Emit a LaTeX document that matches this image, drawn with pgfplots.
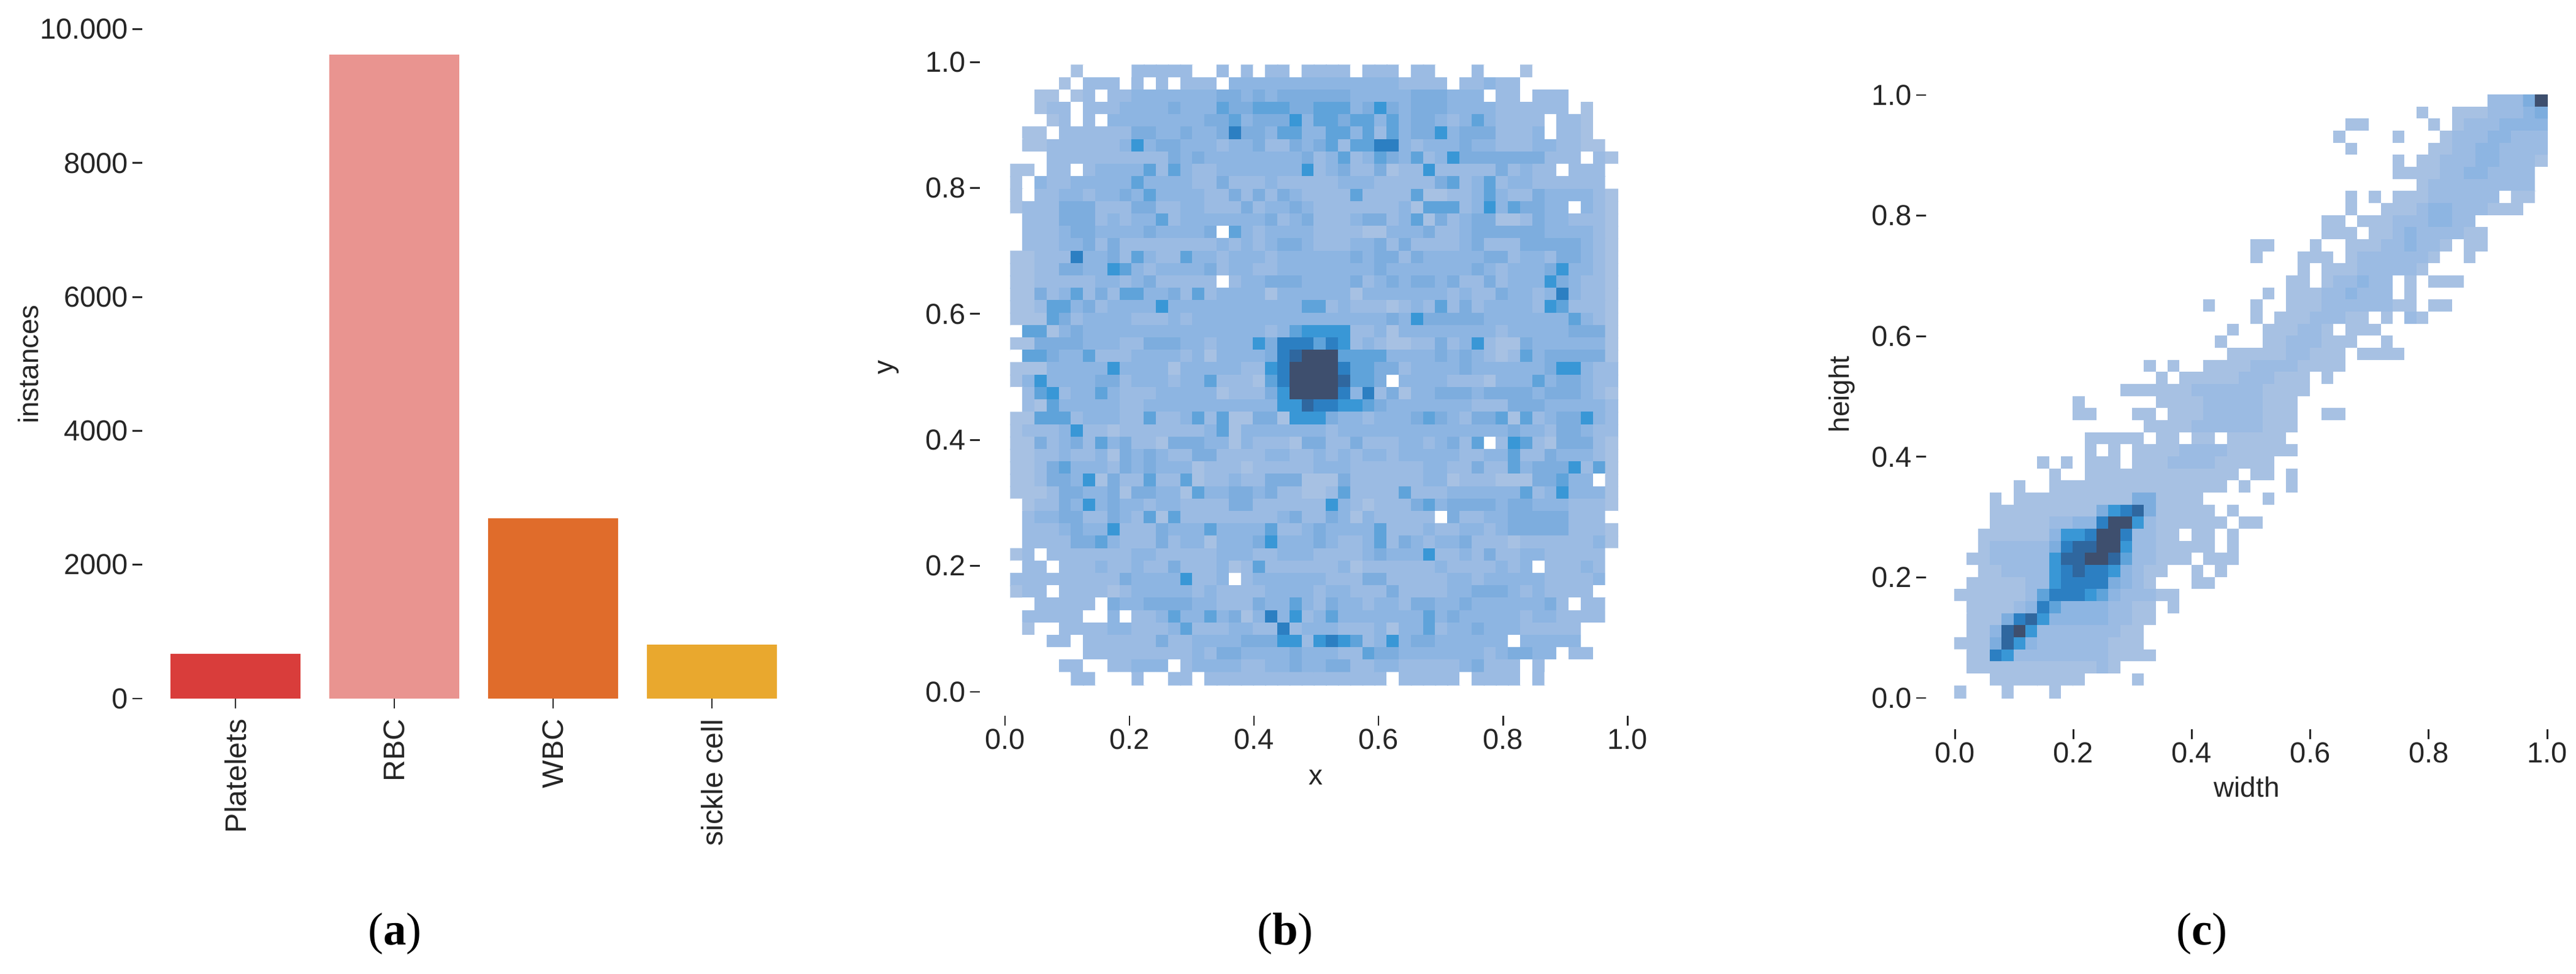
\documentclass[border=0pt]{standalone}
\usepackage{fontspec}
\setmainfont{Liberation Sans}
\newfontfamily\capfont{Liberation Serif}
\usepackage{pgfplots}
\pgfplotsset{compat=1.18}
\definecolor{txt}{HTML}{262626}
\pgfplotsset{
 colormap={hb}{rgb255=(255,255,255) rgb255=(167,193,227) rgb255=(155,187,227) rgb255=(141,181,226) rgb255=(125,173,222) rgb255=(95,163,218) rgb255=(57,151,214) rgb255=(44,127,194) rgb255=(47,103,159) rgb255=(62,79,110)},
 base/.style={scale only axis, anchor=south west, axis lines=left, axis line style={draw=none,-},
  tick align=outside, xtick pos=bottom, ytick pos=left, major tick length=3.9pt,
  scaled y ticks=false, scaled x ticks=false,
  tick style={draw=txt,line width=0.7pt},
  tick label style={font=\fontsize{11.3}{13}\selectfont,text=txt},
  label style={font=\fontsize{11}{13}\selectfont,text=txt},
  xtick style={draw=txt}, ytick style={draw=txt},
  xticklabel style={inner sep=1pt}, yticklabel style={inner sep=1.4pt}},
}
\begin{document}
\begin{tikzpicture}
\path[use as bounding box] (0,0) rectangle (1008.24pt,380.88pt);
\begin{axis}[base, at={(55.68pt,107.52pt)}, width=253.92pt, height=261.94pt,
 xmin=-0.587, xmax=3.498, ymin=0, ymax=10000, ybar, bar width=50.88pt,
 xtick={0,1,2,3}, xticklabels={Platelets,RBC,WBC,sickle cell},
 xticklabel style={rotate=90,anchor=east,inner sep=4pt,font=\fontsize{11.6}{13}\selectfont},
 ytick={0,2000,4000,6000,8000,10000}, yticklabels={0,2000,4000,6000,8000,10.000},
 ylabel={instances}, ylabel style={at={(axis description cs:-0.1758,0.4994)},anchor=center}]
\addplot[bar shift=0pt,draw=none,fill={rgb,255:red,217;green,61;blue,59}] coordinates {(0,668)};
\addplot[bar shift=0pt,draw=none,fill={rgb,255:red,233;green,148;blue,144}] coordinates {(1,9620)};
\addplot[bar shift=0pt,draw=none,fill={rgb,255:red,224;green,108;blue,43}] coordinates {(2,2690)};
\addplot[bar shift=0pt,draw=none,fill={rgb,255:red,233;green,168;blue,46}] coordinates {(3,807)};
\end{axis}
\begin{axis}[base, at={(383.52pt,100.8pt)}, width=258.24pt, height=257.04pt,
 xmin=-0.0404, xmax=1.0197, ymin=-0.03797, ymax=1.005, colormap name=hb, point meta min=0, point meta max=9,
 xtick={0,0.2,0.4,0.6,0.8,1}, xticklabels={0.0,0.2,0.4,0.6,0.8,1.0},
 ytick={0,0.2,0.4,0.6,0.8,1}, yticklabels={0.0,0.2,0.4,0.6,0.8,1.0},
 xlabel={x}, xlabel style={at={(axis description cs:0.5088,-0.0934)},anchor=center},
 ylabel={y}, ylabel style={at={(axis description cs:-0.1385,0.5303)},anchor=center}]
\addplot[matrix plot*, mesh/cols=50, mesh/rows=50, point meta=explicit] table[row sep=crcr, header=false, x expr={0.009+(mod(\coordindex,50)+0.5)*0.01951}, y expr={0.995-(floor((\coordindex+0.5)/50)+0.5)*0.01968}, meta index=0]{
0\\0\\0\\0\\0\\1\\0\\0\\0\\0\\2\\2\\2\\2\\2\\0\\0\\2\\0\\2\\0\\2\\2\\0\\2\\2\\2\\2\\0\\2\\2\\2\\0\\2\\2\\0\\0\\0\\2\\0\\0\\0\\1\\0\\0\\0\\0\\0\\0\\0\\
0\\0\\0\\0\\1\\0\\2\\2\\2\\0\\2\\0\\2\\0\\2\\2\\2\\0\\3\\3\\3\\3\\3\\3\\3\\3\\3\\3\\3\\3\\3\\3\\2\\2\\2\\2\\0\\2\\2\\3\\2\\2\\0\\0\\0\\0\\0\\0\\0\\0\\
0\\0\\1\\1\\0\\1\\2\\0\\2\\2\\3\\3\\3\\3\\3\\3\\3\\4\\4\\3\\4\\3\\4\\4\\4\\4\\4\\4\\3\\3\\3\\3\\3\\4\\4\\4\\3\\3\\3\\0\\2\\2\\0\\2\\2\\2\\0\\0\\0\\0\\
0\\0\\1\\2\\2\\0\\2\\2\\2\\3\\3\\3\\3\\4\\3\\3\\3\\5\\4\\4\\5\\5\\5\\4\\4\\5\\5\\5\\3\\4\\6\\4\\3\\4\\4\\4\\3\\3\\3\\3\\2\\2\\2\\2\\2\\2\\0\\1\\0\\0\\
0\\0\\0\\1\\2\\0\\2\\0\\3\\3\\3\\3\\3\\3\\3\\3\\4\\4\\5\\3\\4\\4\\4\\6\\3\\5\\5\\4\\5\\5\\3\\5\\3\\4\\4\\3\\2\\3\\5\\3\\2\\2\\2\\2\\0\\2\\2\\1\\0\\0\\
0\\1\\1\\0\\2\\2\\2\\2\\2\\2\\4\\4\\3\\3\\4\\3\\3\\4\\7\\4\\4\\3\\5\\5\\3\\3\\5\\5\\3\\5\\2\\5\\3\\4\\4\\6\\3\\4\\4\\4\\2\\2\\2\\3\\0\\2\\2\\1\\0\\0\\
0\\1\\1\\2\\2\\2\\2\\2\\2\\3\\6\\3\\4\\4\\3\\3\\3\\2\\3\\3\\4\\2\\2\\4\\3\\4\\5\\2\\5\\5\\7\\7\\3\\2\\3\\3\\3\\4\\3\\3\\2\\2\\2\\3\\3\\2\\2\\1\\1\\0\\
0\\0\\0\\2\\2\\2\\2\\2\\2\\2\\2\\2\\2\\4\\3\\4\\3\\3\\3\\3\\3\\3\\3\\3\\4\\2\\3\\5\\2\\3\\5\\4\\3\\5\\2\\3\\6\\4\\4\\4\\4\\4\\4\\4\\2\\2\\2\\0\\2\\1\\
1\\1\\0\\2\\2\\0\\2\\3\\3\\3\\3\\5\\2\\5\\3\\2\\2\\3\\3\\3\\3\\3\\3\\3\\6\\2\\3\\4\\2\\2\\4\\1\\2\\2\\6\\2\\2\\2\\2\\2\\4\\2\\3\\2\\2\\0\\2\\2\\2\\0\\
1\\0\\3\\2\\2\\3\\3\\3\\3\\3\\5\\3\\3\\3\\3\\2\\2\\4\\2\\2\\2\\3\\2\\2\\2\\2\\2\\3\\3\\3\\2\\2\\2\\2\\2\\4\\5\\2\\3\\5\\2\\3\\3\\2\\2\\2\\2\\2\\2\\0\\
1\\0\\2\\2\\3\\3\\2\\3\\3\\4\\3\\5\\3\\3\\3\\3\\2\\2\\4\\2\\4\\2\\4\\3\\2\\2\\2\\2\\5\\2\\2\\2\\2\\5\\1\\1\\2\\2\\3\\5\\3\\2\\2\\4\\3\\3\\3\\3\\2\\1\\
1\\2\\2\\2\\4\\4\\4\\2\\2\\2\\4\\4\\2\\2\\3\\3\\2\\2\\2\\4\\2\\3\\3\\4\\3\\2\\2\\2\\2\\2\\2\\2\\3\\1\\5\\5\\5\\2\\3\\6\\3\\5\\4\\4\\3\\3\\0\\3\\2\\1\\
0\\2\\2\\2\\4\\4\\4\\2\\3\\2\\3\\3\\5\\2\\3\\3\\3\\3\\3\\3\\3\\4\\2\\3\\4\\2\\2\\2\\3\\4\\4\\2\\3\\5\\1\\4\\2\\3\\4\\4\\1\\1\\2\\4\\3\\3\\2\\2\\2\\1\\
0\\2\\2\\2\\3\\4\\4\\3\\3\\3\\3\\4\\3\\3\\3\\3\\4\\0\\5\\3\\2\\3\\3\\3\\3\\2\\2\\2\\2\\1\\1\\3\\3\\3\\4\\2\\2\\3\\4\\4\\4\\4\\4\\4\\3\\3\\3\\3\\2\\1\\
0\\2\\2\\2\\3\\3\\4\\2\\4\\2\\2\\2\\2\\2\\2\\2\\2\\3\\2\\3\\2\\3\\4\\4\\3\\2\\2\\2\\3\\3\\4\\2\\4\\2\\2\\2\\2\\3\\4\\2\\2\\2\\4\\4\\4\\4\\4\\3\\2\\1\\
1\\1\\2\\2\\2\\7\\3\\3\\4\\2\\5\\3\\2\\2\\5\\3\\3\\2\\3\\3\\3\\2\\3\\3\\3\\3\\3\\3\\4\\3\\4\\4\\2\\4\\3\\3\\3\\3\\3\\4\\4\\2\\3\\3\\2\\4\\4\\3\\2\\1\\
1\\1\\2\\2\\4\\4\\3\\3\\6\\5\\3\\2\\3\\3\\3\\3\\4\\2\\3\\3\\2\\2\\3\\3\\3\\3\\3\\3\\3\\3\\4\\3\\3\\3\\3\\3\\3\\3\\4\\3\\2\\3\\3\\3\\4\\6\\3\\3\\2\\1\\
1\\1\\2\\2\\2\\2\\2\\3\\3\\2\\3\\4\\2\\2\\2\\2\\2\\0\\2\\3\\3\\4\\4\\4\\3\\3\\3\\3\\4\\2\\3\\4\\3\\4\\4\\3\\4\\2\\2\\4\\2\\3\\3\\3\\6\\4\\3\\2\\2\\1\\
1\\1\\4\\2\\3\\5\\2\\4\\2\\5\\5\\3\\3\\4\\2\\5\\2\\3\\3\\3\\3\\1\\3\\3\\3\\3\\3\\3\\1\\3\\3\\3\\3\\3\\3\\3\\2\\3\\2\\2\\4\\3\\3\\2\\3\\7\\3\\2\\2\\1\\
1\\1\\2\\5\\5\\3\\4\\2\\3\\3\\3\\3\\6\\3\\3\\3\\3\\3\\3\\3\\3\\3\\3\\3\\5\\5\\2\\3\\2\\2\\2\\1\\2\\3\\2\\5\\2\\4\\2\\3\\3\\3\\3\\2\\6\\5\\2\\2\\2\\1\\
1\\1\\1\\5\\4\\2\\3\\3\\3\\3\\2\\2\\2\\3\\2\\3\\3\\3\\3\\3\\3\\3\\3\\3\\3\\3\\3\\3\\3\\3\\3\\4\\3\\6\\4\\4\\4\\4\\4\\3\\3\\3\\3\\3\\3\\3\\5\\3\\2\\1\\
0\\5\\5\\1\\3\\4\\3\\3\\3\\3\\3\\3\\3\\3\\3\\3\\3\\3\\3\\3\\3\\2\\3\\5\\6\\6\\6\\6\\2\\2\\3\\1\\3\\3\\3\\3\\3\\3\\3\\3\\2\\3\\3\\3\\3\\3\\4\\4\\4\\1\\
1\\1\\4\\4\\4\\4\\3\\3\\3\\2\\2\\4\\4\\4\\3\\3\\2\\3\\3\\3\\6\\4\\7\\7\\7\\5\\7\\6\\2\\3\\2\\1\\1\\2\\2\\4\\2\\3\\6\\2\\1\\1\\4\\3\\3\\3\\3\\3\\3\\1\\
0\\5\\5\\4\\3\\3\\5\\2\\2\\2\\3\\3\\3\\3\\2\\3\\1\\3\\3\\3\\3\\4\\7\\8\\9\\9\\9\\5\\5\\5\\5\\3\\3\\3\\3\\4\\3\\4\\3\\2\\1\\2\\5\\3\\4\\4\\4\\4\\4\\1\\
1\\1\\1\\3\\3\\3\\3\\3\\6\\3\\3\\3\\3\\1\\3\\3\\3\\3\\3\\2\\2\\6\\7\\9\\9\\9\\9\\7\\5\\5\\4\\4\\2\\3\\3\\3\\3\\4\\3\\3\\3\\3\\3\\3\\4\\6\\6\\3\\2\\2\\
1\\3\\6\\3\\3\\3\\3\\4\\4\\2\\3\\3\\3\\2\\3\\3\\5\\2\\2\\2\\1\\5\\7\\9\\9\\9\\9\\8\\5\\5\\4\\0\\3\\3\\3\\3\\2\\2\\2\\1\\3\\3\\3\\5\\3\\4\\4\\3\\2\\2\\
0\\2\\5\\6\\2\\3\\3\\5\\3\\2\\2\\2\\3\\3\\3\\3\\3\\1\\2\\2\\2\\4\\6\\9\\9\\9\\9\\7\\3\\7\\2\\4\\1\\3\\3\\4\\4\\4\\3\\4\\4\\4\\4\\3\\4\\4\\4\\3\\2\\1\\
0\\2\\1\\5\\3\\3\\3\\3\\3\\2\\2\\3\\3\\3\\3\\3\\3\\3\\3\\3\\3\\3\\6\\6\\8\\7\\7\\6\\6\\5\\4\\3\\3\\3\\3\\3\\3\\3\\2\\2\\2\\4\\4\\4\\3\\3\\3\\3\\3\\2\\
1\\1\\5\\5\\5\\2\\3\\3\\3\\2\\2\\5\\2\\2\\3\\5\\2\\5\\1\\1\\4\\4\\1\\6\\6\\6\\4\\3\\3\\2\\3\\3\\3\\4\\5\\4\\3\\2\\4\\4\\5\\1\\5\\2\\3\\4\\4\\6\\3\\2\\
1\\2\\2\\2\\3\\6\\2\\2\\1\\2\\2\\2\\2\\2\\2\\2\\3\\5\\1\\3\\3\\3\\3\\3\\3\\3\\2\\3\\3\\3\\3\\3\\3\\3\\3\\3\\3\\3\\3\\3\\3\\4\\3\\3\\2\\4\\4\\3\\2\\2\\
1\\1\\4\\2\\3\\4\\2\\5\\3\\4\\2\\2\\1\\4\\4\\4\\3\\3\\1\\3\\2\\2\\2\\1\\4\\4\\2\\2\\4\\2\\2\\2\\3\\3\\2\\3\\4\\2\\5\\0\\2\\6\\5\\2\\1\\4\\4\\4\\2\\1\\
1\\1\\2\\2\\3\\2\\2\\3\\1\\4\\3\\4\\3\\2\\2\\4\\4\\2\\2\\2\\2\\3\\3\\2\\2\\3\\2\\3\\2\\3\\3\\2\\3\\3\\3\\3\\3\\2\\2\\3\\3\\5\\2\\2\\4\\3\\3\\3\\2\\1\\
1\\1\\2\\4\\5\\3\\3\\3\\2\\4\\3\\4\\3\\3\\3\\1\\2\\2\\2\\1\\2\\2\\2\\2\\2\\3\\3\\3\\2\\2\\2\\2\\2\\2\\3\\3\\2\\2\\4\\2\\2\\5\\3\\4\\4\\4\\6\\2\\5\\1\\
1\\1\\2\\4\\4\\3\\6\\1\\4\\2\\2\\5\\2\\2\\5\\1\\2\\2\\3\\2\\2\\4\\4\\4\\1\\1\\1\\4\\2\\2\\2\\2\\2\\2\\3\\3\\1\\2\\2\\2\\1\\1\\1\\4\\4\\5\\3\\3\\0\\1\\
1\\1\\1\\2\\4\\4\\3\\3\\4\\1\\4\\4\\3\\3\\1\\5\\3\\3\\4\\4\\3\\4\\2\\2\\1\\1\\2\\5\\2\\2\\2\\2\\5\\2\\2\\2\\3\\3\\3\\3\\3\\3\\5\\2\\3\\6\\3\\3\\3\\1\\
0\\1\\2\\2\\4\\3\\6\\3\\4\\3\\3\\2\\3\\3\\2\\2\\2\\2\\4\\4\\2\\2\\2\\2\\2\\2\\6\\3\\2\\1\\2\\2\\2\\4\\5\\3\\4\\4\\4\\4\\3\\4\\4\\3\\3\\3\\2\\2\\2\\1\\
0\\2\\3\\3\\4\\4\\2\\2\\4\\3\\2\\5\\1\\5\\2\\2\\2\\2\\2\\2\\2\\2\\3\\4\\2\\2\\4\\3\\1\\3\\2\\2\\2\\2\\2\\0\\4\\2\\2\\3\\3\\4\\4\\4\\4\\4\\2\\2\\2\\0\\
0\\2\\2\\2\\3\\4\\3\\3\\6\\2\\2\\2\\4\\3\\3\\3\\5\\3\\3\\3\\3\\5\\2\\2\\3\\4\\3\\3\\3\\3\\5\\2\\2\\2\\3\\2\\2\\3\\3\\2\\3\\4\\4\\4\\4\\4\\2\\2\\2\\1\\
0\\2\\2\\2\\2\\4\\4\\5\\3\\2\\2\\2\\4\\2\\3\\3\\1\\3\\3\\3\\4\\6\\3\\3\\3\\4\\3\\2\\2\\3\\5\\2\\4\\3\\2\\3\\3\\4\\2\\2\\2\\1\\2\\2\\2\\2\\2\\2\\3\\1\\
1\\2\\0\\2\\2\\2\\2\\2\\2\\2\\3\\3\\2\\2\\2\\2\\2\\3\\3\\3\\2\\2\\3\\3\\3\\2\\2\\2\\2\\3\\4\\3\\3\\3\\6\\2\\2\\3\\2\\4\\2\\2\\3\\3\\2\\2\\2\\2\\2\\0\\
0\\2\\2\\0\\2\\2\\2\\3\\2\\2\\3\\2\\2\\4\\2\\2\\2\\3\\1\\2\\5\\2\\2\\2\\2\\2\\2\\3\\1\\2\\2\\2\\2\\2\\2\\3\\2\\2\\2\\2\\3\\2\\3\\0\\2\\2\\2\\3\\2\\0\\
2\\2\\2\\2\\2\\2\\2\\2\\2\\4\\3\\3\\3\\3\\6\\2\\2\\3\\0\\2\\3\\3\\3\\3\\3\\3\\2\\2\\2\\4\\4\\2\\2\\2\\2\\2\\3\\3\\2\\3\\3\\3\\3\\3\\2\\2\\2\\2\\3\\0\\
1\\2\\2\\0\\2\\2\\2\\2\\1\\2\\3\\3\\3\\3\\3\\2\\3\\2\\2\\2\\2\\3\\3\\3\\3\\2\\3\\3\\2\\2\\2\\4\\2\\2\\2\\2\\3\\3\\4\\4\\4\\3\\2\\3\\2\\2\\2\\2\\0\\0\\
0\\0\\2\\2\\2\\2\\2\\0\\4\\3\\3\\4\\4\\4\\4\\3\\3\\2\\2\\2\\4\\3\\3\\5\\3\\2\\4\\3\\3\\2\\3\\3\\2\\4\\4\\3\\3\\4\\3\\3\\3\\3\\3\\3\\4\\2\\0\\2\\2\\0\\
0\\2\\2\\2\\2\\2\\0\\0\\3\\0\\2\\2\\3\\5\\3\\3\\5\\3\\4\\1\\3\\7\\3\\6\\2\\3\\5\\3\\3\\3\\3\\3\\3\\3\\5\\3\\4\\3\\3\\3\\3\\3\\2\\3\\3\\2\\2\\2\\2\\0\\
0\\1\\0\\0\\2\\2\\2\\2\\3\\3\\2\\2\\2\\3\\5\\2\\2\\2\\3\\3\\2\\2\\7\\2\\3\\3\\3\\2\\2\\2\\3\\1\\3\\3\\5\\2\\3\\3\\4\\3\\3\\3\\2\\2\\2\\2\\2\\0\\0\\0\\
0\\0\\0\\2\\2\\0\\2\\2\\2\\2\\2\\2\\4\\2\\2\\3\\3\\3\\3\\4\\4\\4\\6\\6\\2\\6\\7\\6\\5\\2\\3\\6\\3\\4\\4\\3\\3\\3\\3\\3\\3\\0\\3\\3\\3\\3\\3\\0\\0\\0\\
0\\0\\0\\0\\0\\0\\2\\2\\2\\2\\2\\2\\2\\2\\2\\3\\2\\4\\4\\3\\3\\3\\3\\4\\3\\3\\3\\2\\2\\5\\4\\4\\3\\3\\3\\3\\3\\3\\3\\2\\3\\4\\4\\3\\3\\0\\2\\2\\0\\0\\
0\\0\\0\\0\\2\\2\\0\\0\\2\\2\\3\\3\\3\\0\\2\\3\\3\\3\\3\\2\\2\\3\\3\\4\\3\\3\\4\\4\\2\\2\\3\\3\\2\\2\\2\\2\\2\\3\\4\\2\\2\\2\\0\\2\\0\\0\\0\\0\\0\\0\\
0\\0\\0\\0\\0\\2\\2\\0\\0\\0\\2\\0\\0\\2\\2\\0\\2\\2\\2\\2\\2\\2\\2\\2\\2\\2\\2\\2\\2\\2\\2\\0\\2\\2\\2\\2\\2\\0\\2\\2\\2\\2\\0\\2\\0\\0\\0\\0\\0\\0\\
};
\end{axis}
\begin{axis}[base, at={(753.84pt,95.52pt)}, width=245.76pt, height=249.36pt,
 xmin=-0.04865, xmax=1.0114, ymin=-0.05188, ymax=1.0051, colormap name=hb, point meta min=0, point meta max=9,
 xtick={0,0.2,0.4,0.6,0.8,1}, xticklabels={0.0,0.2,0.4,\raisebox{-2.2pt}{0.6},0.8,1.0},
 ytick={0,0.2,0.4,0.6,0.8,1}, yticklabels={0.0,0.2,0.4,0.6,0.8,1.0},
 xlabel={width}, xlabel style={at={(axis description cs:0.5107,-0.0905)},anchor=center},
 ylabel={height}, ylabel style={at={(axis description cs:-0.1338,0.5255)},anchor=center}]
\addplot[matrix plot*, mesh/cols=50, mesh/rows=50, point meta=explicit] table[row sep=crcr, header=false, x expr={(mod(\coordindex,50)+0.5)*0.02}, y expr={1-(floor((\coordindex+0.5)/50)+0.5)*0.02}, meta index=0]{
0\\0\\0\\0\\0\\0\\0\\0\\0\\0\\ 0\\0\\0\\0\\0\\0\\0\\0\\0\\0\\ 0\\0\\0\\0\\0\\0\\0\\0\\0\\0\\ 0\\0\\0\\0\\0\\0\\0\\0\\0\\0\\ 0\\0\\0\\0\\0\\2\\2\\2\\4\\9\\
0\\0\\0\\0\\0\\0\\0\\0\\0\\0\\ 0\\0\\0\\0\\0\\0\\0\\0\\0\\0\\ 0\\0\\0\\0\\0\\0\\0\\0\\0\\0\\ 0\\0\\0\\0\\0\\0\\0\\0\\0\\1\\ 0\\0\\1\\1\\1\\2\\2\\2\\3\\4\\
0\\0\\0\\0\\0\\0\\0\\0\\0\\0\\ 0\\0\\0\\0\\0\\0\\0\\0\\0\\0\\ 0\\0\\0\\0\\0\\0\\0\\0\\0\\0\\ 0\\0\\0\\1\\1\\0\\0\\0\\0\\0\\ 1\\0\\1\\2\\2\\2\\3\\3\\3\\3\\
0\\0\\0\\0\\0\\0\\0\\0\\0\\0\\ 0\\0\\0\\0\\0\\0\\0\\0\\0\\0\\ 0\\0\\0\\0\\0\\0\\0\\0\\0\\0\\ 0\\0\\1\\0\\0\\0\\0\\1\\0\\0\\ 0\\1\\2\\2\\2\\3\\3\\2\\2\\2\\
0\\0\\0\\0\\0\\0\\0\\0\\0\\0\\ 0\\0\\0\\0\\0\\0\\0\\0\\0\\0\\ 0\\0\\0\\0\\0\\0\\0\\0\\0\\0\\ 0\\0\\0\\1\\0\\0\\0\\0\\0\\0\\ 1\\1\\2\\2\\3\\3\\2\\2\\2\\2\\
0\\0\\0\\0\\0\\0\\0\\0\\0\\0\\ 0\\0\\0\\0\\0\\0\\0\\0\\0\\0\\ 0\\0\\0\\0\\0\\0\\0\\0\\0\\0\\ 0\\0\\0\\0\\0\\0\\0\\1\\0\\1\\ 1\\2\\2\\2\\3\\3\\2\\2\\2\\1\\
0\\0\\0\\0\\0\\0\\0\\0\\0\\0\\ 0\\0\\0\\0\\0\\0\\0\\0\\0\\0\\ 0\\0\\0\\0\\0\\0\\0\\0\\0\\0\\ 0\\0\\0\\0\\0\\0\\0\\1\\1\\1\\ 1\\2\\2\\3\\3\\2\\2\\2\\2\\0\\
0\\0\\0\\0\\0\\0\\0\\0\\0\\0\\ 0\\0\\0\\0\\0\\0\\0\\0\\0\\0\\ 0\\0\\0\\0\\0\\0\\0\\0\\0\\0\\ 0\\0\\0\\0\\0\\0\\0\\0\\0\\1\\ 2\\2\\2\\2\\2\\2\\2\\2\\2\\0\\
0\\0\\0\\0\\0\\0\\0\\0\\0\\0\\ 0\\0\\0\\0\\0\\0\\0\\0\\0\\0\\ 0\\0\\0\\0\\0\\0\\0\\0\\0\\0\\ 0\\0\\0\\1\\0\\1\\0\\1\\1\\1\\ 2\\2\\2\\2\\2\\2\\0\\1\\1\\0\\
0\\0\\0\\0\\0\\0\\0\\0\\0\\0\\ 0\\0\\0\\0\\0\\0\\0\\0\\0\\0\\ 0\\0\\0\\0\\0\\0\\0\\0\\0\\0\\ 0\\0\\0\\1\\0\\0\\1\\1\\1\\2\\ 3\\3\\2\\2\\2\\1\\1\\1\\0\\0\\
0\\0\\0\\0\\0\\0\\0\\0\\0\\0\\ 0\\0\\0\\0\\0\\0\\0\\0\\0\\0\\ 0\\0\\0\\0\\0\\0\\0\\0\\0\\0\\ 0\\1\\1\\0\\1\\1\\1\\2\\2\\2\\ 3\\3\\2\\2\\0\\0\\0\\0\\0\\0\\
0\\0\\0\\0\\0\\0\\0\\0\\0\\0\\ 0\\0\\0\\0\\0\\0\\0\\0\\0\\0\\ 0\\0\\0\\0\\0\\0\\0\\0\\0\\0\\ 0\\1\\1\\1\\0\\1\\1\\2\\3\\2\\ 2\\2\\2\\1\\1\\0\\0\\0\\0\\0\\
0\\0\\0\\0\\0\\0\\0\\0\\0\\0\\ 0\\0\\0\\0\\0\\0\\0\\0\\0\\0\\ 0\\0\\0\\0\\0\\1\\1\\0\\0\\0\\ 1\\0\\0\\1\\1\\1\\2\\2\\3\\2\\ 2\\1\\0\\1\\1\\0\\0\\0\\0\\0\\
0\\0\\0\\0\\0\\0\\0\\0\\0\\0\\ 0\\0\\0\\0\\0\\0\\0\\0\\0\\0\\ 0\\0\\0\\0\\0\\1\\0\\0\\0\\1\\ 1\\1\\0\\1\\2\\2\\2\\2\\2\\2\\ 1\\0\\0\\1\\0\\0\\0\\0\\0\\0\\
0\\0\\0\\0\\0\\0\\0\\0\\0\\0\\ 0\\0\\0\\0\\0\\0\\0\\0\\0\\0\\ 0\\0\\0\\0\\0\\0\\0\\0\\0\\1\\ 0\\1\\1\\1\\2\\2\\2\\2\\2\\1\\ 0\\0\\0\\0\\0\\0\\0\\0\\0\\0\\
0\\0\\0\\0\\0\\0\\0\\0\\0\\0\\ 0\\0\\0\\0\\0\\0\\0\\0\\0\\0\\ 0\\0\\0\\0\\0\\0\\0\\0\\1\\1\\ 0\\1\\2\\2\\3\\2\\2\\0\\1\\0\\ 1\\1\\1\\0\\0\\0\\0\\0\\0\\0\\
0\\0\\0\\0\\0\\0\\0\\0\\0\\0\\ 0\\0\\0\\0\\0\\0\\0\\0\\0\\0\\ 0\\0\\0\\0\\0\\0\\1\\0\\1\\1\\ 1\\2\\2\\3\\2\\2\\2\\0\\1\\0\\ 0\\0\\0\\0\\0\\0\\0\\0\\0\\0\\
0\\0\\0\\0\\0\\0\\0\\0\\0\\0\\ 0\\0\\0\\0\\0\\0\\0\\0\\0\\0\\ 0\\1\\0\\0\\0\\1\\0\\0\\1\\1\\ 1\\2\\2\\2\\2\\2\\2\\1\\1\\0\\ 1\\1\\0\\0\\0\\0\\0\\0\\0\\0\\
0\\0\\0\\0\\0\\0\\0\\0\\0\\0\\ 0\\0\\0\\0\\0\\0\\0\\0\\0\\0\\ 0\\0\\0\\0\\0\\1\\0\\1\\1\\1\\ 2\\2\\2\\1\\1\\0\\1\\0\\2\\1\\ 0\\0\\0\\0\\0\\0\\0\\0\\0\\0\\
0\\0\\0\\0\\0\\0\\0\\0\\0\\0\\ 0\\0\\0\\0\\0\\0\\0\\0\\0\\0\\ 0\\0\\0\\1\\0\\0\\1\\1\\1\\2\\ 2\\1\\0\\1\\1\\1\\0\\0\\0\\0\\ 0\\0\\0\\0\\0\\0\\0\\0\\0\\0\\
0\\0\\0\\0\\0\\0\\0\\0\\0\\0\\ 0\\0\\0\\0\\0\\0\\0\\0\\0\\0\\ 0\\0\\1\\0\\0\\0\\1\\1\\2\\2\\ 2\\1\\1\\1\\0\\0\\1\\0\\0\\0\\ 0\\0\\0\\0\\0\\0\\0\\0\\0\\0\\
0\\0\\0\\0\\0\\0\\0\\0\\0\\0\\ 0\\0\\0\\0\\0\\0\\0\\0\\0\\0\\ 0\\0\\0\\1\\1\\1\\1\\1\\2\\2\\ 1\\1\\1\\0\\1\\1\\1\\1\\0\\0\\ 0\\0\\0\\0\\0\\0\\0\\0\\0\\0\\
0\\0\\0\\0\\0\\0\\0\\0\\0\\0\\ 0\\0\\0\\0\\0\\0\\1\\0\\1\\0\\ 0\\1\\1\\1\\1\\2\\2\\2\\2\\1\\ 1\\1\\1\\0\\0\\0\\0\\0\\0\\0\\ 0\\0\\0\\0\\0\\0\\0\\0\\0\\0\\
0\\0\\0\\0\\0\\0\\0\\0\\0\\0\\ 0\\0\\0\\0\\0\\0\\0\\1\\0\\1\\ 1\\1\\1\\1\\2\\2\\2\\1\\1\\1\\ 0\\1\\0\\0\\0\\0\\0\\0\\0\\0\\ 0\\0\\0\\0\\0\\0\\0\\0\\0\\0\\
0\\0\\0\\0\\0\\0\\0\\0\\0\\0\\ 0\\0\\0\\0\\1\\1\\1\\1\\1\\1\\ 2\\2\\2\\2\\2\\2\\1\\1\\1\\1\\ 0\\0\\0\\0\\0\\0\\0\\0\\0\\0\\ 0\\0\\0\\0\\0\\0\\0\\0\\0\\0\\
0\\0\\0\\0\\0\\0\\0\\0\\0\\0\\ 1\\0\\0\\0\\0\\0\\0\\1\\1\\1\\ 1\\2\\2\\2\\2\\2\\1\\1\\1\\0\\ 0\\0\\0\\0\\0\\0\\0\\0\\0\\0\\ 0\\0\\0\\0\\0\\0\\0\\0\\0\\0\\
0\\0\\0\\0\\0\\0\\0\\0\\0\\0\\ 1\\1\\0\\0\\0\\1\\1\\0\\1\\1\\ 1\\2\\2\\2\\2\\2\\1\\1\\1\\0\\ 0\\1\\1\\0\\0\\0\\0\\0\\0\\0\\ 0\\0\\0\\0\\0\\0\\0\\0\\0\\0\\
0\\0\\0\\0\\0\\0\\0\\0\\0\\0\\ 0\\0\\0\\0\\0\\0\\1\\1\\1\\1\\ 2\\2\\2\\2\\2\\2\\1\\1\\1\\0\\ 0\\0\\0\\0\\0\\0\\0\\0\\0\\0\\ 0\\0\\0\\0\\0\\0\\0\\0\\0\\0\\
0\\0\\0\\0\\0\\0\\0\\0\\0\\0\\ 0\\1\\1\\1\\1\\1\\0\\1\\1\\0\\ 1\\1\\0\\1\\1\\1\\1\\1\\0\\0\\ 0\\0\\0\\0\\0\\0\\0\\0\\0\\0\\ 0\\0\\0\\0\\0\\0\\0\\0\\0\\0\\
0\\0\\0\\0\\0\\0\\0\\0\\0\\0\\ 0\\1\\0\\1\\0\\1\\1\\1\\1\\2\\ 2\\2\\2\\1\\1\\1\\1\\1\\1\\0\\ 0\\0\\0\\0\\0\\0\\0\\0\\0\\0\\ 0\\0\\0\\0\\0\\0\\0\\0\\0\\0\\
0\\0\\0\\0\\0\\0\\0\\1\\0\\1\\ 0\\1\\1\\1\\0\\1\\1\\1\\2\\2\\ 2\\2\\1\\1\\1\\1\\1\\0\\0\\0\\ 0\\0\\0\\0\\0\\0\\0\\0\\0\\0\\ 0\\0\\0\\0\\0\\0\\0\\0\\0\\0\\
0\\0\\0\\0\\0\\0\\0\\0\\1\\0\\ 0\\1\\1\\1\\1\\1\\1\\1\\1\\1\\ 1\\1\\1\\1\\0\\1\\1\\0\\1\\0\\ 0\\0\\0\\0\\0\\0\\0\\0\\0\\0\\ 0\\0\\0\\0\\0\\0\\0\\0\\0\\0\\
0\\0\\0\\0\\0\\1\\0\\0\\1\\1\\ 1\\1\\1\\1\\1\\1\\1\\1\\1\\1\\ 1\\1\\1\\0\\1\\0\\0\\0\\1\\0\\ 0\\0\\0\\0\\0\\0\\0\\0\\0\\0\\ 0\\0\\0\\0\\0\\0\\0\\0\\0\\0\\
0\\0\\0\\1\\0\\1\\1\\1\\1\\1\\ 1\\1\\1\\1\\1\\4\\4\\1\\1\\1\\ 1\\0\\0\\0\\0\\0\\1\\0\\0\\0\\ 0\\0\\0\\0\\0\\0\\0\\0\\0\\0\\ 0\\0\\0\\0\\0\\0\\0\\0\\0\\0\\
0\\0\\0\\1\\1\\1\\1\\1\\1\\1\\ 1\\1\\4\\6\\7\\8\\4\\1\\1\\1\\ 1\\1\\0\\1\\0\\0\\0\\0\\0\\0\\ 0\\0\\0\\0\\0\\0\\0\\0\\0\\0\\ 0\\0\\0\\0\\0\\0\\0\\0\\0\\0\\
0\\0\\0\\1\\1\\1\\1\\1\\2\\2\\ 3\\3\\7\\9\\9\\6\\2\\1\\1\\1\\ 1\\1\\1\\0\\1\\1\\0\\0\\0\\0\\ 0\\0\\0\\0\\0\\0\\0\\0\\0\\0\\ 0\\0\\0\\0\\0\\0\\0\\0\\0\\0\\
0\\0\\1\\1\\1\\1\\1\\1\\3\\6\\ 6\\7\\9\\9\\7\\2\\2\\1\\1\\0\\ 1\\1\\0\\1\\0\\0\\0\\0\\0\\0\\ 0\\0\\0\\0\\0\\0\\0\\0\\0\\0\\ 0\\0\\0\\0\\0\\0\\0\\0\\0\\0\\
0\\0\\1\\2\\2\\2\\2\\2\\4\\7\\ 8\\8\\9\\9\\6\\2\\2\\1\\1\\1\\ 1\\1\\0\\1\\0\\0\\0\\0\\0\\0\\ 0\\0\\0\\0\\0\\0\\0\\0\\0\\0\\ 0\\0\\0\\0\\0\\0\\0\\0\\0\\0\\
0\\1\\1\\2\\2\\2\\2\\2\\6\\8\\ 8\\9\\9\\8\\5\\2\\2\\1\\1\\1\\ 0\\1\\1\\1\\0\\0\\0\\0\\0\\0\\ 0\\0\\0\\0\\0\\0\\0\\0\\0\\0\\ 0\\0\\0\\0\\0\\0\\0\\0\\0\\0\\
0\\0\\1\\1\\2\\2\\2\\2\\6\\7\\ 8\\7\\7\\6\\3\\2\\1\\1\\0\\0\\ 1\\0\\1\\0\\0\\0\\0\\0\\0\\0\\ 0\\0\\0\\0\\0\\0\\0\\0\\0\\0\\ 0\\0\\0\\0\\0\\0\\0\\0\\0\\0\\
0\\1\\1\\1\\1\\1\\2\\2\\6\\7\\ 7\\7\\7\\4\\3\\2\\1\\0\\0\\0\\ 1\\1\\0\\0\\0\\0\\0\\0\\0\\0\\ 0\\0\\0\\0\\0\\0\\0\\0\\0\\0\\ 0\\0\\0\\0\\0\\0\\0\\0\\0\\0\\
1\\1\\1\\1\\1\\1\\2\\5\\7\\7\\ 7\\6\\5\\3\\2\\2\\2\\1\\1\\0\\ 0\\0\\0\\0\\0\\0\\0\\0\\0\\0\\ 0\\0\\0\\0\\0\\0\\0\\0\\0\\0\\ 0\\0\\0\\0\\0\\0\\0\\0\\0\\0\\
0\\1\\1\\1\\1\\2\\3\\7\\5\\3\\ 3\\3\\3\\2\\2\\1\\1\\0\\1\\0\\ 0\\0\\0\\0\\0\\0\\0\\0\\0\\0\\ 0\\0\\0\\0\\0\\0\\0\\0\\0\\0\\ 0\\0\\0\\0\\0\\0\\0\\0\\0\\0\\
0\\1\\1\\1\\4\\7\\8\\6\\3\\3\\ 3\\3\\3\\2\\2\\1\\1\\0\\0\\0\\ 0\\0\\0\\0\\0\\0\\0\\0\\0\\0\\ 0\\0\\0\\0\\0\\0\\0\\0\\0\\0\\ 0\\0\\0\\0\\0\\0\\0\\0\\0\\0\\
0\\1\\1\\3\\8\\9\\6\\2\\2\\2\\ 2\\2\\2\\2\\1\\1\\0\\0\\0\\0\\ 0\\0\\0\\0\\0\\0\\0\\0\\0\\0\\ 0\\0\\0\\0\\0\\0\\0\\0\\0\\0\\ 0\\0\\0\\0\\0\\0\\0\\0\\0\\0\\
1\\1\\1\\4\\8\\6\\3\\2\\2\\2\\ 2\\2\\2\\1\\1\\1\\0\\0\\0\\0\\ 0\\0\\0\\0\\0\\0\\0\\0\\0\\0\\ 0\\0\\0\\0\\0\\0\\0\\0\\0\\0\\ 0\\0\\0\\0\\0\\0\\0\\0\\0\\0\\
0\\1\\1\\7\\6\\2\\2\\2\\2\\2\\ 2\\2\\2\\1\\1\\1\\1\\0\\0\\0\\ 0\\0\\0\\0\\0\\0\\0\\0\\0\\0\\ 0\\0\\0\\0\\0\\0\\0\\0\\0\\0\\ 0\\0\\0\\0\\0\\0\\0\\0\\0\\0\\
0\\1\\1\\1\\1\\1\\1\\1\\1\\1\\ 1\\1\\2\\1\\0\\0\\0\\0\\0\\0\\ 0\\0\\0\\0\\0\\0\\0\\0\\0\\0\\ 0\\0\\0\\0\\0\\0\\0\\0\\0\\0\\ 0\\0\\0\\0\\0\\0\\0\\0\\0\\0\\
0\\0\\0\\1\\1\\1\\1\\1\\1\\1\\ 1\\0\\0\\0\\0\\1\\0\\0\\0\\0\\ 0\\0\\0\\0\\0\\0\\0\\0\\0\\0\\ 0\\0\\0\\0\\0\\0\\0\\0\\0\\0\\ 0\\0\\0\\0\\0\\0\\0\\0\\0\\0\\
1\\0\\0\\0\\1\\0\\0\\0\\1\\0\\ 0\\0\\0\\0\\0\\0\\0\\0\\0\\0\\ 0\\0\\0\\0\\0\\0\\0\\0\\0\\0\\ 0\\0\\0\\0\\0\\0\\0\\0\\0\\0\\ 0\\0\\0\\0\\0\\0\\0\\0\\0\\0\\
};
\end{axis}
\node[font=\capfont\fontsize{18}{20}\selectfont,text=black] at (154.6pt,15.4pt) {(\textbf{a})};
\node[font=\capfont\fontsize{18}{20}\selectfont,text=black] at (503pt,15.4pt) {(\textbf{b})};
\node[font=\capfont\fontsize{18}{20}\selectfont,text=black] at (861.8pt,15.4pt) {(\textbf{c})};
\end{tikzpicture}
\end{document}
